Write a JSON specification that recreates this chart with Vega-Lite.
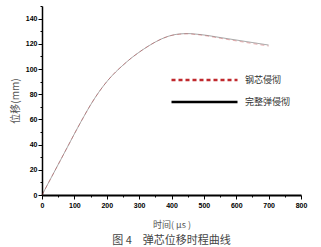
{
  "$schema": "https://vega.github.io/schema/vega-lite/v6.json",
  "width": 259,
  "height": 189,
  "autosize": "none",
  "padding": {"left": 42, "top": 6, "right": 20, "bottom": 52},
  "background": "white",
  "title": {"text": "图 4　弹芯位移时程曲线", "orient": "bottom", "font": "Noto Sans CJK SC", "fontSize": 11, "fontWeight": "normal", "color": "#444", "offset": 6, "anchor": "middle"},
  "config": {"view": {"stroke": null}},
  "data": {"values": [
    {"t": 0, "d": 0, "s": "完整弹侵彻"}, {"t": 25, "d": 12.1, "s": "完整弹侵彻"}, {"t": 50, "d": 24.2, "s": "完整弹侵彻"}, {"t": 75, "d": 36.3, "s": "完整弹侵彻"}, {"t": 100, "d": 48.5, "s": "完整弹侵彻"}, {"t": 125, "d": 60.3, "s": "完整弹侵彻"}, {"t": 150, "d": 71.5, "s": "完整弹侵彻"}, {"t": 175, "d": 81.4, "s": "完整弹侵彻"}, {"t": 200, "d": 89.9, "s": "完整弹侵彻"}, {"t": 225, "d": 97, "s": "完整弹侵彻"}, {"t": 250, "d": 103, "s": "完整弹侵彻"}, {"t": 275, "d": 108.5, "s": "完整弹侵彻"}, {"t": 300, "d": 113.3, "s": "完整弹侵彻"}, {"t": 325, "d": 117.6, "s": "完整弹侵彻"}, {"t": 350, "d": 121.4, "s": "完整弹侵彻"}, {"t": 375, "d": 124.5, "s": "完整弹侵彻"}, {"t": 400, "d": 126.7, "s": "完整弹侵彻"}, {"t": 425, "d": 127.8, "s": "完整弹侵彻"}, {"t": 450, "d": 128.1, "s": "完整弹侵彻"}, {"t": 475, "d": 127.7, "s": "完整弹侵彻"}, {"t": 500, "d": 127, "s": "完整弹侵彻"}, {"t": 550, "d": 125, "s": "完整弹侵彻"}, {"t": 600, "d": 123, "s": "完整弹侵彻"}, {"t": 650, "d": 121, "s": "完整弹侵彻"}, {"t": 700, "d": 119, "s": "完整弹侵彻"},
    {"t": 0, "d": 0, "s": "钢芯侵彻"}, {"t": 25, "d": 12.1, "s": "钢芯侵彻"}, {"t": 50, "d": 24.2, "s": "钢芯侵彻"}, {"t": 75, "d": 36.3, "s": "钢芯侵彻"}, {"t": 100, "d": 48.5, "s": "钢芯侵彻"}, {"t": 125, "d": 60.3, "s": "钢芯侵彻"}, {"t": 150, "d": 71.5, "s": "钢芯侵彻"}, {"t": 175, "d": 81.4, "s": "钢芯侵彻"}, {"t": 200, "d": 89.9, "s": "钢芯侵彻"}, {"t": 225, "d": 97, "s": "钢芯侵彻"}, {"t": 250, "d": 103, "s": "钢芯侵彻"}, {"t": 275, "d": 108.5, "s": "钢芯侵彻"}, {"t": 300, "d": 113.3, "s": "钢芯侵彻"}, {"t": 325, "d": 117.6, "s": "钢芯侵彻"}, {"t": 350, "d": 121.4, "s": "钢芯侵彻"}, {"t": 375, "d": 124.5, "s": "钢芯侵彻"}, {"t": 400, "d": 126.6, "s": "钢芯侵彻"}, {"t": 425, "d": 127.6, "s": "钢芯侵彻"}, {"t": 450, "d": 127.9, "s": "钢芯侵彻"}, {"t": 475, "d": 127.4, "s": "钢芯侵彻"}, {"t": 500, "d": 126.6, "s": "钢芯侵彻"}, {"t": 550, "d": 124.4, "s": "钢芯侵彻"}, {"t": 600, "d": 122.3, "s": "钢芯侵彻"}, {"t": 650, "d": 120.2, "s": "钢芯侵彻"}, {"t": 700, "d": 118.2, "s": "钢芯侵彻"}
  ]},
  "mark": {"type": "line", "strokeWidth": 0.8, "opacity": 0.45, "interpolate": "monotone"},
  "encoding": {
    "x": {"field": "t", "type": "quantitative", "scale": {"domain": [0, 800], "nice": false},
      "axis": {"title": "时间( μs )", "titleFont": "Noto Sans CJK SC", "titleFontSize": 9, "titleFontWeight": "normal", "titleColor": "#555", "titlePadding": 12,
        "values": [0,50,100,150,200,250,300,350,400,450,500,550,600,650,700,750,800],
        "labelExpr": "datum.value % 100 === 0 ? datum.label : ''",
        "labelFont": "Liberation Sans", "labelFontSize": 7, "labelFontWeight": "bold", "labelColor": "#000", "labelPadding": 2, "labelFlush": false,
        "grid": false, "domainColor": "#000", "domainWidth": 2, "tickColor": "#000", "tickWidth": 1,
        "tickSize": {"condition": {"test": "datum.value % 100 === 0", "value": 4}, "value": 2}}},
    "y": {"field": "d", "type": "quantitative", "scale": {"domain": [0, 150], "nice": false},
      "axis": {"title": "位移(mm)", "titleFont": "Noto Sans CJK SC", "titleFontSize": 10, "titleFontWeight": "normal", "titleColor": "#555", "titlePadding": 5,
        "values": [0,10,20,30,40,50,60,70,80,90,100,110,120,130,140,150],
        "labelExpr": "datum.value % 20 === 0 ? datum.label : ''",
        "labelFont": "Liberation Sans", "labelFontSize": 7, "labelFontWeight": "bold", "labelColor": "#000", "labelPadding": 1,
        "grid": false, "domainColor": "#000", "domainWidth": 1.5, "tickColor": "#000", "tickWidth": 1,
        "tickSize": {"condition": {"test": "datum.value % 20 === 0", "value": 4}, "value": 2}}},
    "color": {"field": "s", "type": "nominal", "scale": {"domain": ["钢芯侵彻", "完整弹侵彻"], "range": ["#c0282d", "#000000"]},
      "legend": {"title": null, "orient": "none", "legendX": 128, "legendY": 67, "symbolType": "stroke", "symbolSize": 4356, "symbolStrokeWidth": 2.5, "symbolOpacity": 1, "clipHeight": 14,
        "labelFont": "Noto Sans CJK SC", "labelFontSize": 9, "labelColor": "#333", "labelOffset": 6, "rowPadding": 8}},
    "strokeDash": {"field": "s", "type": "nominal", "scale": {"domain": ["钢芯侵彻", "完整弹侵彻"], "range": [[4, 3], [1, 0]]}, "legend": null}
  }
}
